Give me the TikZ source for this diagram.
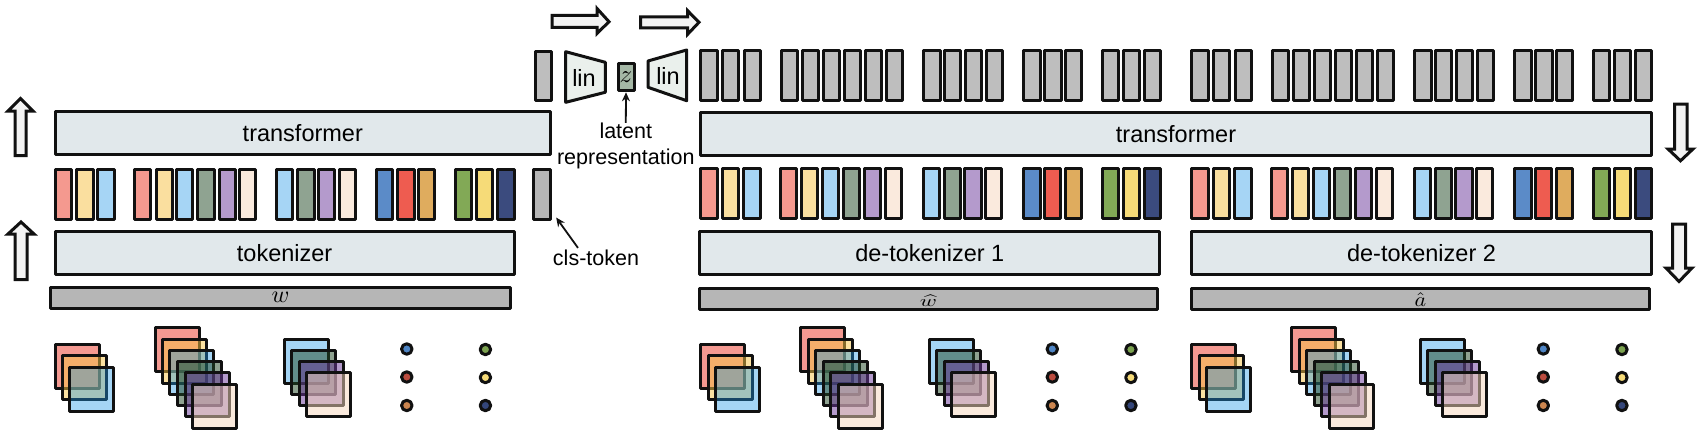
\documentclass[tikz,border=0pt]{standalone}
\usepackage{fontspec}
\setmainfont{Liberation Sans}
\usetikzlibrary{arrows.meta}
\definecolor{ink}{HTML}{111111}
\definecolor{boxc}{HTML}{E1E8EB}
\definecolor{linc}{HTML}{EAF0EC}
\definecolor{arrc}{HTML}{F3F3F3}
\definecolor{gtop}{HTML}{BEBEBE}
\definecolor{gbar}{HTML}{B6B6B6}
\definecolor{zc}{HTML}{A5B8A6}
% opaque token colours
\definecolor{tr}{HTML}{F4998F}
\definecolor{ty}{HTML}{FADF9F}
\definecolor{tb}{HTML}{A6D5F5}
\definecolor{tg}{HTML}{8FA391}
\definecolor{tp}{HTML}{B49ACC}
\definecolor{tc}{HTML}{FAEADD}
\definecolor{ta}{HTML}{5B8BC8}
\definecolor{tk}{HTML}{EE5C50}
\definecolor{to}{HTML}{DFAC5E}
\definecolor{tv}{HTML}{82A956}
\definecolor{tl}{HTML}{F6DB78}
\definecolor{tn}{HTML}{3B4B7E}
% half-transparent layer colours
\definecolor{lr}{HTML}{EA3323}
\definecolor{ly}{HTML}{F7C344}
\definecolor{lb}{HTML}{1F96E6}
\definecolor{lg}{HTML}{1F4723}
\definecolor{lp}{HTML}{693599}
\definecolor{lc}{HTML}{F5D5BB}
% dots
\definecolor{da}{HTML}{4F86C6}
\definecolor{dk}{HTML}{BC4C3F}
\definecolor{do}{HTML}{CC8650}
\definecolor{dv}{HTML}{7CA350}
\definecolor{dl}{HTML}{F6DB78}
\definecolor{dn}{HTML}{34467A}
\tikzset{
  stroke/.style={draw=ink,line width=3pt,line join=round},
  token/.style={stroke,inner sep=0pt,minimum width=16.3pt,minimum height=49.5pt},
  wide/.style={stroke,fill=boxc,inner sep=0pt,font=\fontsize{23.5}{26}\selectfont},
  barbox/.style={stroke,fill=gbar,inner sep=0pt,minimum height=21pt},
  layer/.style={stroke,inner sep=0pt,minimum size=44pt,draw opacity=1},
  dotn/.style={stroke,circle,inner sep=0pt,minimum size=10.5pt},
  blockarrow/.style={draw=ink,line width=3pt,fill=arrc,miter limit=10},
  lab/.style={inner sep=0pt,font=\fontsize{21.5}{26}\selectfont,align=center},
  pointer/.style={draw=ink,line width=1.8pt,-{Stealth[length=9pt,width=8pt]}},
}
\newcommand{\bandtok}[3]{% prefix, y centre, list x/colour
  \foreach \x/\c [count=\i] in {#3} {
    \node[token,fill=\c] (#1\i) at (\x+9.65,#2) {};
  }
}
\newcommand{\layerset}[2]{% prefix, x offset
  \foreach \x/\y/\c/\a [count=\i] in {53.6/343/lr/.5,61.4/354/ly/.5,68/365.5/lb/.4,
      153.6/326/lr/.5,161.4/338/ly/.5,168/349/lb/.4,176.4/360/lg/.5,183.6/371/lp/.5,191.4/383/lc/.5,
      282.5/338/lb/.4,289.5/349/lg/.5,297.5/360/lp/.5,304.6/371/lc/.5} {
    \node[layer,fill=\c,fill opacity=\a] (#1s\i) at (#2+\x+23.5,\y+23.5) {};
  }
  \foreach \x/\y/\c [count=\i] in {406.8/349/da,406.8/377/dk,406.8/405.5/do,
      485.4/349.5/dv,485.4/377.5/dl,485.4/405.5/dn} {
    \node[dotn,fill=\c] (#1d\i) at (#2+\x,\y) {};
  }
}
\begin{document}
\begin{tikzpicture}[x=1pt,y=-1pt]
\useasboundingbox (0,0) rectangle (1700,444);

% encoder
\node[wide,minimum width=495.2pt,minimum height=43pt] (encT) at (302.8,133.3) {transformer};
\bandtok{enc}{194.3}{53.6/tr,75.4/ty,96.4/tb,133/tr,154.6/ty,175/tb,196.4/tg,217.5/tp,238/tc,275/tb,296.4/tg,317/tp,338/tc,375/ta,396.4/tk,417/to,454/tv,475/tl,496.4/tn}
\node[token,fill=gbar] (cls) at (542,194.3) {};
\node[wide,minimum width=459pt,minimum height=43pt] (encK) at (284.6,253) {tokenizer};
\node[barbox,minimum width=459.3pt,text height=10pt,text depth=0pt] (encB) at (280.5,297.5) {\scalebox{2.4}{$w$}};
\layerset{E}{0}

% bottleneck
\node[token,fill=gtop] (clsTop) at (543.2,76) {};
\draw[stroke,fill=linc] (565.7,51.7) -- (605.3,62.3) -- (605.3,92.3) -- (565.7,102.3) -- cycle;
\node[lab,font=\fontsize{23.5}{26}\selectfont] (linL) at (584,78) {lin};
\node[stroke,fill=zc,inner sep=0pt,minimum width=16pt,minimum height=27pt] (zbox) at (626,77.3) {\scalebox{2.5}{$z$}};
\draw[stroke,fill=linc] (686.7,50) -- (648,61) -- (648,87.3) -- (686.7,100.7) -- cycle;
\node[lab,font=\fontsize{23.5}{26}\selectfont] (linR) at (668,76) {lin};
\node[lab] (latent) at (625.8,146) {latent\\representation};
\draw[pointer] (latent.north) -- (zbox.south);
\node[lab] (clstext) at (596,258) {cls-token};
\draw[pointer] ([xshift=-18pt,yshift=2pt]clstext.north) -- ([shift={(4.5pt,3pt)}]cls.south east);

% decoder transformer
\node[wide,minimum width=950.4pt,minimum height=43.5pt] (decT) at (1176,133.8) {transformer};
\bandtok{tA}{75.5}{699.3/gtop,721/gtop,743/gtop,780/gtop,801/gtop,822/gtop,843/gtop,864/gtop,884.5/gtop,922.4/gtop,943/gtop,964/gtop,984.5/gtop,1022.3/gtop,1043.3/gtop,1064/gtop,1101/gtop,1121.8/gtop,1142.5/gtop}
\bandtok{tB}{75.5}{1190.3/gtop,1212/gtop,1234/gtop,1271/gtop,1292/gtop,1313/gtop,1334/gtop,1355/gtop,1375.5/gtop,1413.4/gtop,1434/gtop,1455/gtop,1475.5/gtop,1513.3/gtop,1534.3/gtop,1555/gtop,1592/gtop,1612.8/gtop,1633.5/gtop}
\bandtok{bA}{193.5}{699.3/tr,721/ty,742.3/tb,779/tr,800/ty,821/tb,842/tg,863/tp,883.8/tc,921.8/tb,942.5/tg,963.4/tp,984/tc,1022.3/ta,1043/tk,1063.6/to,1101/tv,1121.8/tl,1142.5/tn}
\bandtok{bB}{193.5}{1190.3/tr,1212/ty,1233.3/tb,1270/tr,1291/ty,1312/tb,1333/tg,1354/tp,1374.8/tc,1412.8/tb,1433.5/tg,1454.4/tp,1475/tc,1513.3/ta,1534/tk,1554.6/to,1592/tv,1612.8/tl,1633.5/tn}

% de-tokenizers, bars and inputs
\node[wide,minimum width=460pt,minimum height=43pt] (detA) at (929.8,253) {de-tokenizer 1};
\node[wide,minimum width=459.3pt,minimum height=43pt] (detB) at (1421.5,253) {de-tokenizer 2};
\node[barbox,minimum width=458pt,text height=15pt,text depth=0pt] (barA) at (928.5,299) {\scalebox{2.3}[1.6]{$\widehat{w}$}};
\node[barbox,minimum width=458pt,text height=15pt,text depth=0pt] (barB) at (1420.5,299) {\scalebox{2.2}[2]{$\hat{a}$}};
\layerset{A}{645.5}
\layerset{B}{1136.5}

% flow arrows
\draw[blockarrow] (15,155.5) -- (15,111) -- (8,111) -- (20.5,98.5) -- (33,111) -- (26,111) -- (26,155.5) -- cycle;
\draw[blockarrow] (15,279.5) -- (15,234) -- (8,234) -- (21,222) -- (34,234) -- (27,234) -- (27,279.5) -- cycle;
\draw[blockarrow] (552.2,27.5) -- (597,27.5) -- (597,33.5) -- (609,21.7) -- (597,8.5) -- (597,15.5) -- (552.2,15.5) -- cycle;
\draw[blockarrow] (640.5,28) -- (687.7,28) -- (687.7,34.2) -- (699,22.3) -- (687.7,10.8) -- (687.7,17) -- (640.5,17) -- cycle;
\draw[blockarrow] (1674.5,104.2) -- (1687,104.2) -- (1687,149) -- (1693,149) -- (1680.5,160.8) -- (1668,149) -- (1674.5,149) -- cycle;
\draw[blockarrow] (1672.5,224.2) -- (1685.5,224.2) -- (1685.5,268) -- (1692,268) -- (1679,281.5) -- (1666,268) -- (1672.5,268) -- cycle;
\end{tikzpicture}
\end{document}
